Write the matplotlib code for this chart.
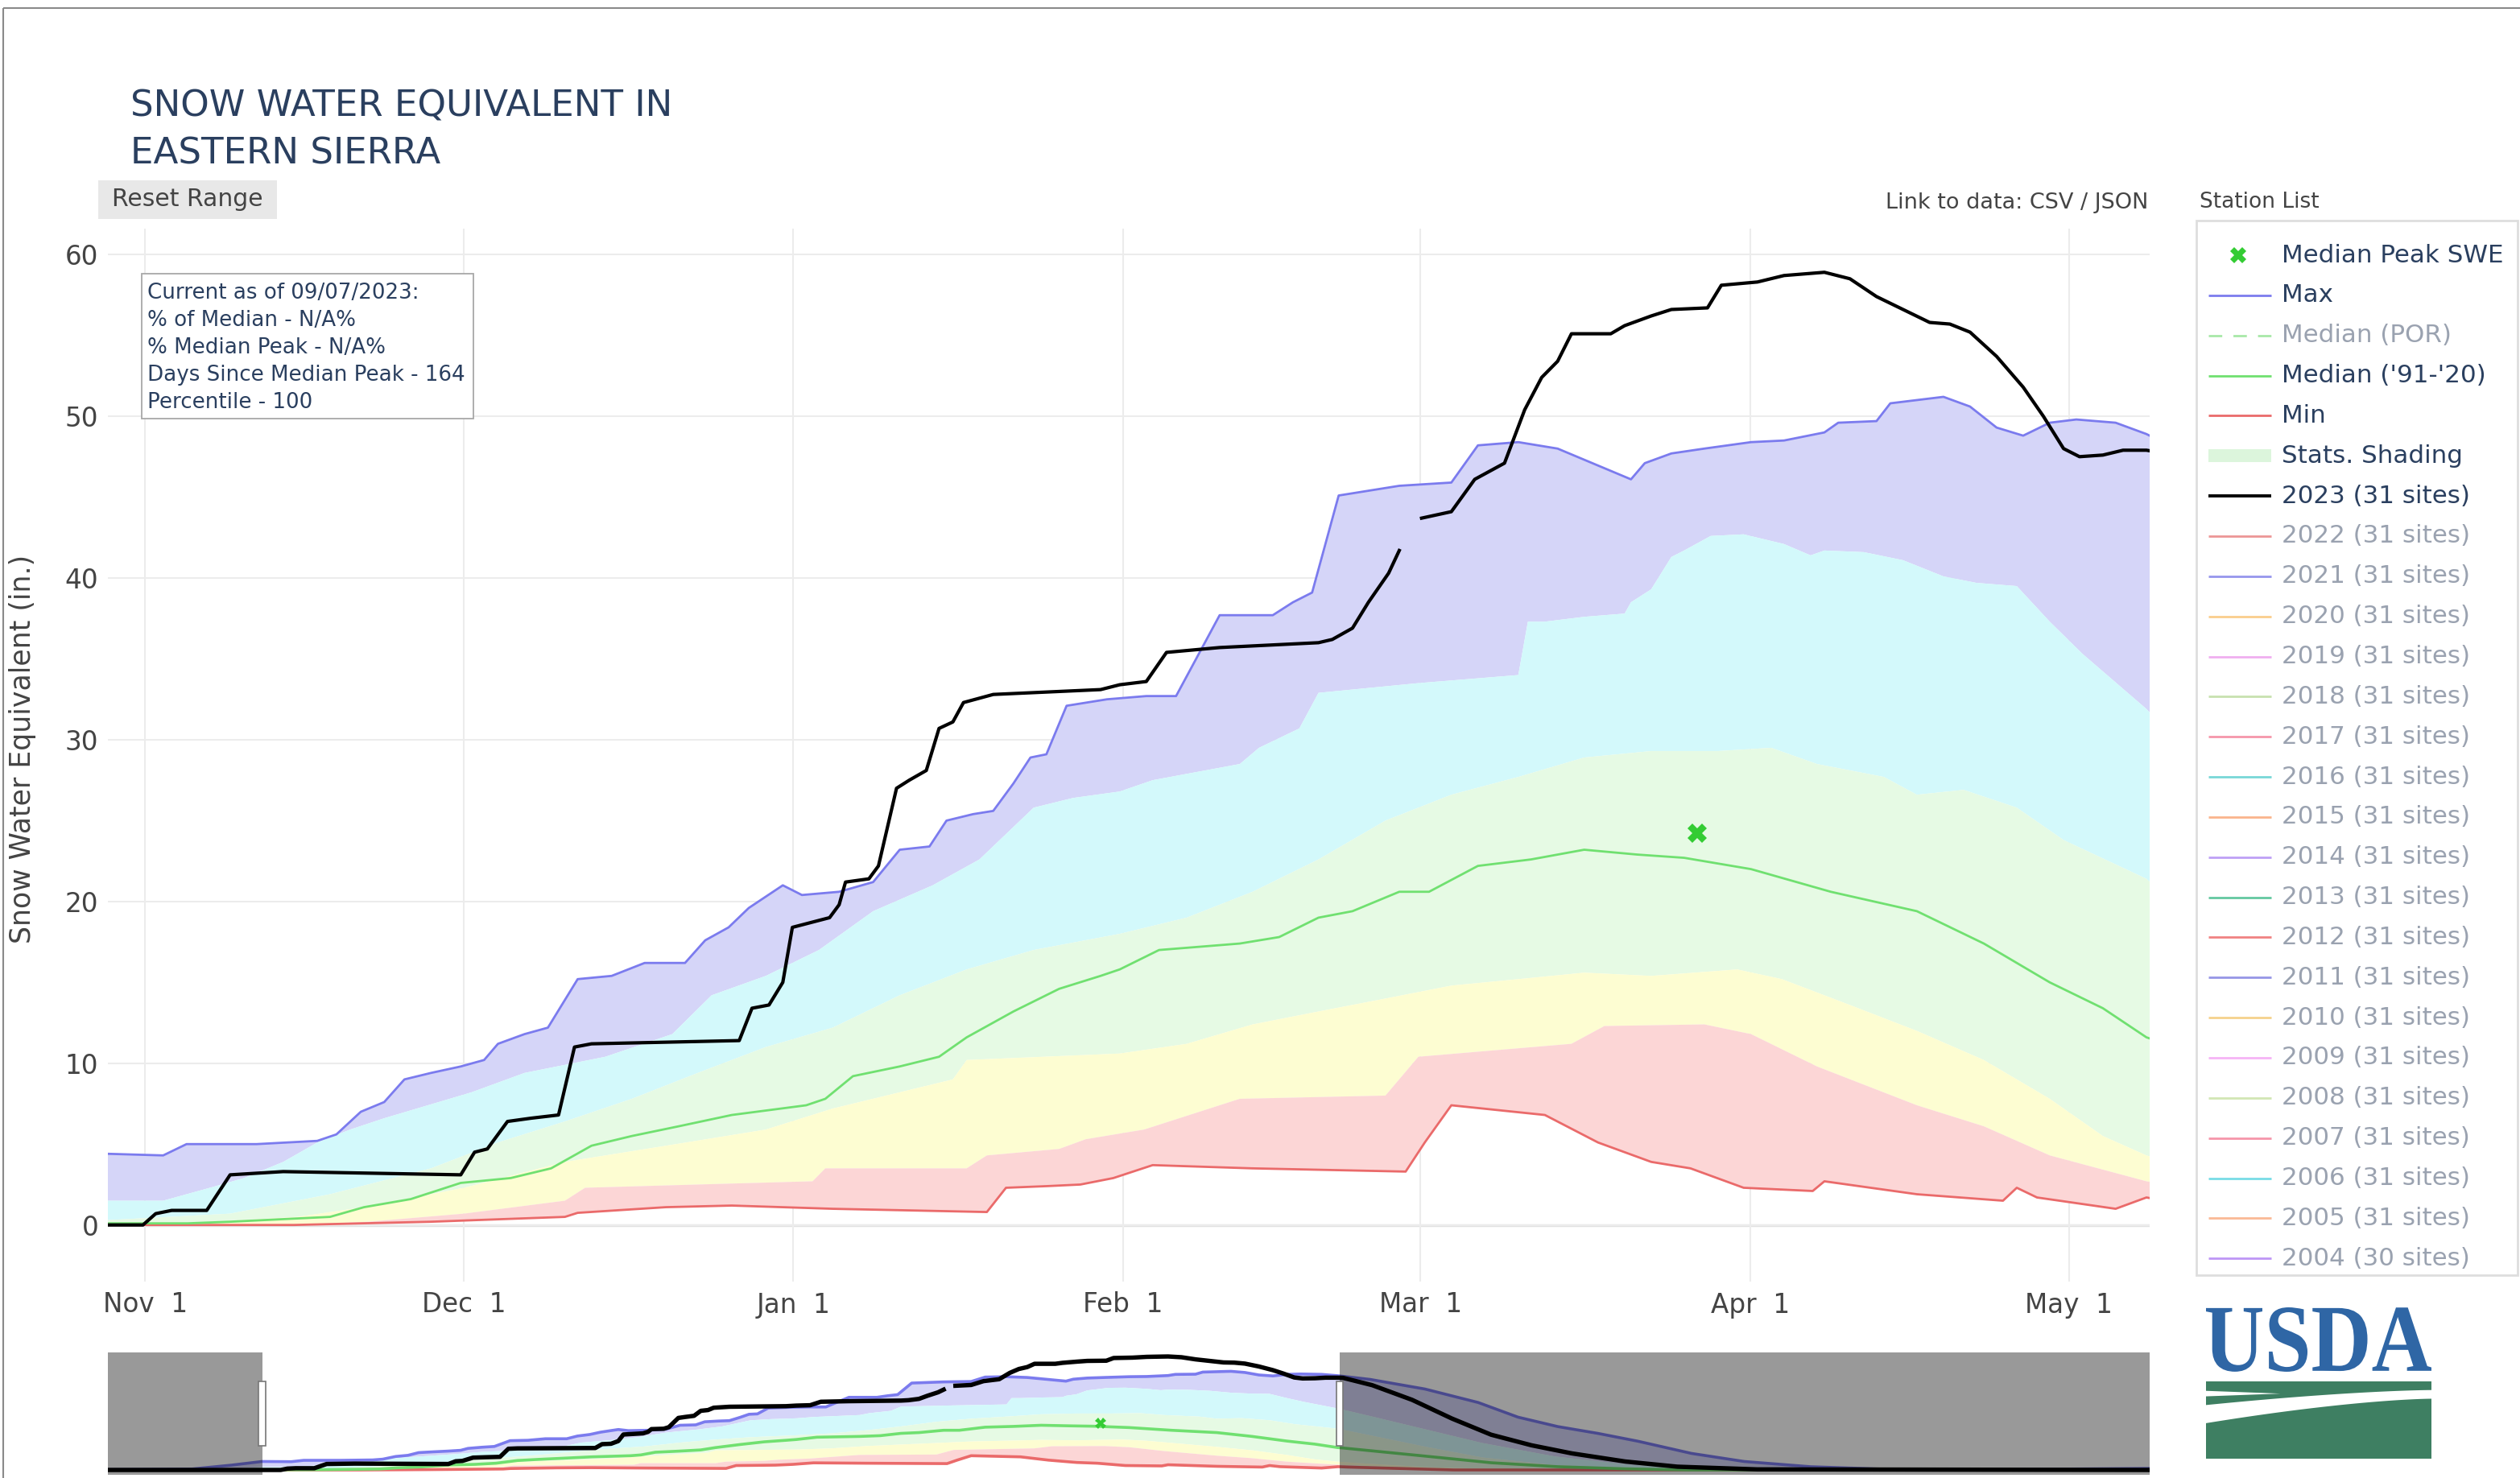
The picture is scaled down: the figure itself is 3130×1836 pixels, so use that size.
import matplotlib
matplotlib.use("Agg")
import numpy as np
import matplotlib.pyplot as plt
import matplotlib.transforms as mtrans
from matplotlib.patches import Rectangle, PathPatch, Polygon
from matplotlib.textpath import TextPath
from matplotlib.font_manager import FontProperties, fontManager

# ---------------- DATA (x = days since Oct 1, water year 2023) ----------------
max_days = [0, 15, 22, 27.5, 32.7, 34.9, 41.5, 47.2, 49, 51.3, 53.5, 55.4, 57.9, 60.7, 62.9, 64.2, 66.7,
            68.9, 71.7, 74.9, 78, 81.8, 83.7, 85.9, 87.8, 91, 92.8, 96.3, 99.5, 102, 104.8, 106.4, 108.9,
            110.8, 112.7, 114.3, 115.8, 117.7, 121.5, 125.2, 128, 132.1, 137.1, 139, 140.8, 143.3, 149,
            153.9, 156.4, 160.2, 163.9, 170.8, 172.1, 174.6, 177.7, 182.1, 185.2, 189, 190.3, 193.9, 195.2,
            197.7, 200.2, 202.7, 205.2, 207.7, 210.2, 212.7, 216.4, 219.3, 225, 234.8, 244.3, 251.4, 258.5,
            265.6, 272.8, 282.3, 291.7, 303.5, 317.6, 340, 364]
max_vals = [0.2, 0.5, 2.5, 4.4, 4.3, 5.0, 5.0, 5.2, 5.6, 7.0, 7.6, 9.0, 9.4, 9.8, 10.2, 11.2, 11.8,
            12.2, 15.2, 15.4, 16.2, 16.2, 17.6, 18.4, 19.6, 21.0, 20.4, 20.6, 21.2, 23.2, 23.4, 25.0, 25.4,
            25.6, 27.3, 28.9, 29.1, 32.1, 32.5, 32.7, 32.7, 37.7, 37.7, 38.5, 39.1, 45.1, 45.7,
            45.9, 48.2, 48.4, 48.0, 46.1, 47.1, 47.7, 48.0, 48.4, 48.5, 49.0, 49.6, 49.7, 50.8,
            51.0, 51.2, 50.6, 49.3, 48.8, 49.6, 49.8, 49.6, 48.9, 47.0, 42.0, 35.0, 27.4, 22.5,
            19.0, 14.9, 8.6, 4.4, 1.7, 0.3, 0.3, 0.8]

p90_days = [0, 20, 27.5, 32.7, 37.1, 40.3, 44, 47.2, 50.3, 53.5, 61.7, 66.7, 74.3, 80.6, 84.3, 89.4, 94.4,
            99.5, 105.1, 109.5, 114.6, 118.3, 122.7, 125.8, 134, 135.8, 139.6, 141.4, 150.8, 160.2, 161.1,
            162.7, 166.4, 170.2, 170.8, 172.7, 174.6, 175.8, 178.3, 181.4, 185.2, 187.7, 189, 192.7, 196.4,
            200.2, 203.3, 207.1, 210.2, 213.3, 219.3, 225, 235, 245, 258, 272, 290, 364]
p90_vals = [0, 0.3, 1.5, 1.5, 2.3, 2.9, 3.9, 5.1, 5.9, 6.6, 8.2, 9.4, 10.4, 11.8, 14.2, 15.4, 17.0,
            19.4, 21.0, 22.6, 25.8, 26.4, 26.8, 27.5, 28.5, 29.5, 30.7, 32.9, 33.5, 34.0, 37.3,
            37.3, 37.6, 37.8, 38.5, 39.3, 41.3, 41.7, 42.6, 42.7, 42.1, 41.4, 41.7, 41.6, 41.1,
            40.1, 39.7, 39.5, 37.3, 35.3, 31.9, 28.0, 21.0, 14.0, 7.0, 2.5, 0.5, 0]

p70_days = [0, 27.5, 39, 48.4, 57.9, 64.2, 70.5, 76.8, 83, 89.4, 95.7, 102, 108.3, 114.6, 122.7, 129,
            135.2, 141.4, 147.7, 153.9, 160.2, 166.4, 172.7, 179, 184, 188.3, 194.6, 197.7, 202.1, 207.1,
            211.5, 219.3, 225, 235, 245, 258, 272, 364]
p70_vals = [0, 0.3, 0.7, 1.9, 3.5, 5.1, 6.4, 7.8, 9.4, 11.0, 12.2, 14.2, 15.8, 17.0, 18.0, 19.0,
            20.6, 22.6, 25.0, 26.6, 27.7, 28.9, 29.3, 29.3, 29.5, 28.5, 27.7, 26.6, 26.9, 25.8,
            23.8, 21.4, 18.0, 12.0, 6.5, 2.5, 0.5, 0]

p30_days = [0, 27.5, 35, 45.3, 51.6, 61, 70.5, 80, 89.4, 95.7, 107, 108.3, 122.7, 129, 135.2, 141.4,
            147.7, 153.9, 160.2, 166.4, 172.7, 180.8, 185, 191.4, 197.7, 204, 210.2, 215.2, 219.3, 225,
            235, 248, 262, 364]
p30_vals = [0, 0.1, 0.1, 0.5, 1.1, 2.3, 3.9, 4.9, 5.9, 7.2, 9.0, 10.2, 10.6, 11.2, 12.4, 13.2,
            14.0, 14.8, 15.2, 15.6, 15.4, 15.8, 15.2, 13.6, 12.0, 10.2, 7.8, 5.5, 4.3, 3.2,
            1.5, 0.4, 0, 0]

p10_days = [0, 45, 52, 61, 70.5, 72.4, 83, 93.8, 95, 108.3, 110.2, 117, 119.5, 125, 132.1, 134, 147.7,
            150.8, 165.2, 168.3, 177.7, 182.1, 188.3, 197.7, 204, 210.2, 219.3, 225, 235, 245, 260, 364]
p10_vals = [0, 0, 0.2, 0.7, 1.5, 2.3, 2.5, 2.7, 3.5, 3.5, 4.3, 4.7, 5.3, 5.9, 7.4, 7.8, 8.0,
            10.4, 11.2, 12.3, 12.4, 11.8, 9.8, 7.4, 6.1, 4.3, 2.7, 2.0, 0.8, 0.2, 0, 0]

min_days = [0, 45, 57.9, 70.5, 71.7, 80, 86.2, 95.7, 110.2, 112, 115.8, 119, 122.1, 125.8, 135.2, 149.6,
            151.4, 153.9, 162.7, 167.7, 172.7, 176.4, 181.4, 187.9, 189, 197.7, 205.8, 207.1, 209, 216.4,
            219.3, 221, 240, 364]
min_vals = [0, 0, 0.2, 0.5, 0.75, 1.1, 1.2, 1.0, 0.8, 2.3, 2.4, 2.5, 2.9, 3.7, 3.5, 3.3,
            5.1, 7.4, 6.8, 5.1, 3.9, 3.5, 2.3, 2.1, 2.7, 1.9, 1.5, 2.3, 1.7, 1.0,
            1.7, 1.5, 0, 0]

med_days = [0, 27.5, 35, 39, 48.4, 51.6, 56, 60.7, 65.4, 69.2, 73, 76.8, 81.2, 86.2, 93.2, 95, 97.6, 102,
            105.7, 108.3, 112.7, 117, 120.9, 122.7, 126.4, 134, 137.7, 141.4, 144.6, 149, 151.8, 156.4,
            161.4, 166.4, 171.4, 175.8, 182.1, 189.6, 197.7, 204, 210.2, 215.2, 219.3, 220.2, 234.8,
            246.6, 258.5, 270.5, 282, 364]
med_vals = [0, 0.1, 0.1, 0.2, 0.5, 1.1, 1.6, 2.6, 2.9, 3.5, 4.9, 5.5, 6.1, 6.8, 7.4, 7.8, 9.2, 9.8,
            10.4, 11.6, 13.2, 14.6, 15.4, 15.8, 17.0, 17.4, 17.8, 19.0, 19.4, 20.6, 20.6, 22.2,
            22.6, 23.2, 22.9, 22.7, 22.0, 20.6, 19.4, 17.4, 15.0, 13.4, 11.6, 11.4, 7.2,
            3.75, 1.7, 0.6, 0, 0]

wy2023_days = [0, 27.5, 30.8, 32, 33.5, 36.8, 39, 44, 60.7, 62, 63.2, 65.1, 67.3, 69.9, 71.4, 73, 86.9,
               88.1, 89.7, 91, 91.9, 95.4, 96.3, 96.9, 99.1, 100, 101.7, 102.9, 104.5, 105.7, 107, 108,
               110.8, 120.9, 122.7, 125.2, 127.1, 132.1, 141.4, 142.7, 144.6, 146.1, 148, 149, 150,
               151.1, 153.9, 156.1, 158.9, 160.8, 162.4, 163.9, 165.2, 168.9, 170.2, 172.7, 174.6, 178,
               179.3, 182.7, 185.2, 189, 191.4, 193.9, 196.4, 198.9, 200.8, 202.7, 205.2, 207.7, 209.6,
               211.5, 213, 215.2, 217.1, 219.3, 220.2, 225.4, 232.5, 239.6, 246.6, 253.8, 261, 270.5,
               279.8, 294, 364]
wy2023_vals = [0, 0, 0, 0.7, 0.9, 0.9, 3.1, 3.3, 3.1, 4.5, 4.7, 6.4, 6.6, 6.8, 11.0, 11.2, 11.4,
               13.4, 13.6, 15.0, 18.4, 19.0, 19.8, 21.2, 21.4, 22.2, 27.0, 27.5, 28.1, 30.7, 31.1, 32.3,
               32.8, 33.1, 33.4, 33.6, 35.4, 35.7, 36.0, 36.2, 36.9, 38.5, 40.3, 41.7, np.nan,
               43.7, 44.1, 46.1, 47.1, 50.4, 52.4, 53.4, 55.1, 55.1, 55.6, 56.2, 56.6, 56.7,
               58.1, 58.3, 58.7, 58.9, 58.5, 57.4, 56.6, 55.8, 55.7, 55.2, 53.7, 51.8, 50.0,
               48.0, 47.5, 47.6, 47.9, 47.9, 47.8, 44.0, 36.4, 26.7, 18.3, 12.8, 8.6, 4.4,
               1.7, 0.3, 0]

peak_day = [177]
peak_val = [24.2]

tick_days = [31, 61, 92, 123, 151, 182, 212]
tick_labels = ["Nov  1", "Dec  1", "Jan  1", "Feb  1", "Mar  1", "Apr  1", "May  1"]
y_ticks = [0, 10, 20, 30, 40, 50, 60]

view_start, view_end = 27.5, 219.6
year_start, year_end = 0, 364

info_lines = ["Current as of 09/07/2023:", "% of Median - N/A%", "% Median Peak - N/A%",
              "Days Since Median Peak - 164", "Percentile - 100"]

legend_years = ["2022", "2021", "2020", "2019", "2018", "2017", "2016", "2015", "2014", "2013",
                "2012", "2011", "2010", "2009", "2008", "2007", "2006", "2005", "2004"]
legend_sites = [31] * 18 + [30]
year_colors = ["#ec9696", "#9696ec", "#facd8c", "#f0aff0", "#c8e1af", "#f596aa", "#78d7d7",
               "#fab48c", "#bea0f5", "#64c8a0", "#f08282", "#9696e6", "#f5d28c", "#f5b4f5",
               "#d2e6b4", "#f596aa", "#78dce6", "#fab996", "#be96f5"]

# ---------------- STYLE ----------------
C_MAX, C_MIN, C_MED, C_PEAK = "#7b7bee", "#ea6a6a", "#70e070", "#33cc33"
F_BLUE, F_CYAN, F_GREEN, F_YEL, F_RED = "#d5d5f8", "#d3f9fb", "#e6fae4", "#fdfdd2", "#fcd6d6"
TXT_DARK, TXT_GREY, TXT_HID = "#2a3f5f", "#444444", "#9aa2b0"

W, H = 3130, 1836
fig = plt.figure(figsize=(W / 100, H / 100), dpi=100)
fig.patch.set_facecolor("white")


def fx(px):
    return px / W


def fy(py):
    return 1 - py / H


def band(a, d_lo, v_lo, d_hi, v_hi, color):
    xs = list(d_hi) + list(d_lo)[::-1]
    ys = list(v_hi) + list(v_lo)[::-1]
    a.fill(xs, ys, color=color, lw=0, zorder=1)


def draw_series(a, lw_scale=1.0):
    band(a, p90_days, p90_vals, max_days, max_vals, F_BLUE)
    band(a, p70_days, p70_vals, p90_days, p90_vals, F_CYAN)
    band(a, p30_days, p30_vals, p70_days, p70_vals, F_GREEN)
    band(a, p10_days, p10_vals, p30_days, p30_vals, F_YEL)
    band(a, min_days, min_vals, p10_days, p10_vals, F_RED)
    a.plot(min_days, min_vals, color=C_MIN, lw=2.0 * lw_scale, zorder=3)
    a.plot(med_days, med_vals, color=C_MED, lw=2.0 * lw_scale, zorder=3)
    a.plot(max_days, max_vals, color=C_MAX, lw=2.0 * lw_scale, zorder=3)
    a.plot(wy2023_days, wy2023_vals, color="black", lw=3.0 * lw_scale, zorder=4)


# ---------------- MAIN AXES ----------------
ax = fig.add_axes([fx(134), fy(1592), fx(2670) - fx(134), fy(284) - fy(1592)])
draw_series(ax)
ax.plot(peak_day, peak_val, linestyle="none", marker="X", color=C_PEAK, markersize=17,
        markeredgewidth=0, zorder=5)
ax.set_xlim(view_start, view_end)
ax.set_ylim(-3.5, 61.6)
ax.set_xticks(tick_days)
ax.set_xticklabels(tick_labels)
ax.set_yticks(y_ticks)
ax.set_axisbelow(True)
ax.grid(True, color="#ececec", lw=1.5)
ax.axhline(0, color="#e2e2e2", lw=2.5, zorder=0.5)
for s in ax.spines.values():
    s.set_visible(False)
ax.tick_params(length=0, labelsize=23.5, colors=TXT_GREY)
ax.tick_params(axis="y", pad=8.5)
ax.tick_params(axis="x", pad=9)

# ---------------- RANGE SLIDER ----------------
ax2 = fig.add_axes([fx(134), fy(1832), fx(2670) - fx(134), fy(1680) - fy(1832)])
draw_series(ax2, lw_scale=1.3)
ax2.plot(peak_day, peak_val, linestyle="none", marker="X", color=C_PEAK, markersize=10,
         markeredgewidth=0, zorder=5)
ax2.set_xlim(year_start, year_end)
ax2.set_ylim(-2.5, 61.0)
ax2.axis("off")
ax2.axvspan(year_start, view_start, color="black", alpha=0.4, lw=0, zorder=6)
ax2.axvspan(view_end, year_end, color="black", alpha=0.4, lw=0, zorder=6)
btr = mtrans.blended_transform_factory(ax2.transData, ax2.transAxes)
for xd in (view_start, view_end):
    ax2.add_patch(Rectangle((xd - 0.6, 0.24), 1.2, 0.52, transform=btr, facecolor="white",
                            edgecolor="#777777", lw=1.2, zorder=7, clip_on=False))

# ---------------- OVERLAY (page decorations) ----------------
ov = fig.add_axes([0, 0, 1, 1], zorder=10)
ov.set_xlim(0, W)
ov.set_ylim(H, 0)
ov.axis("off")
ov.patch.set_alpha(0)

# page frame
ov.plot([4, 4], [10, H], color="#8a8a8a", lw=1.5, solid_capstyle="butt")
ov.plot([4, W], [10, 10], color="#8a8a8a", lw=1.5, solid_capstyle="butt")

# title
names = {f.name for f in fontManager.ttflist}
if "Liberation Sans Narrow" in names:
    tfont = dict(family="Liberation Sans Narrow", fontsize=39)
else:
    tfont = dict(family="DejaVu Sans", fontsize=32.5)
ov.text(162, 144, "SNOW WATER EQUIVALENT IN", va="baseline", ha="left", color=TXT_DARK, **tfont)
ov.text(162, 203, "EASTERN SIERRA", va="baseline", ha="left", color=TXT_DARK, **tfont)

# reset range button
ov.add_patch(Rectangle((122, 224), 222, 48, facecolor="#e8e8e8", edgecolor="none"))
ov.text(233, 248, "Reset Range", ha="center", va="center", fontsize=21.5, color=TXT_GREY)

# info box
ov.add_patch(Rectangle((176, 340), 412, 180, facecolor="white", edgecolor="#a8a8a8", lw=1.3))
for i, line in enumerate(info_lines):
    ov.text(183, 364 + 34 * i, line, ha="left", va="center", fontsize=18.8, color=TXT_DARK)

# y-axis title
ov.text(28, 930, "Snow Water Equivalent (in.)", rotation=90, ha="center", va="center",
        fontsize=25, color=TXT_GREY)

# link text / station list
ov.text(2668, 252, "Link to data: CSV / JSON", ha="right", va="center", fontsize=19.5, color=TXT_GREY)
ov.text(2732, 251, "Station List", ha="left", va="center", fontsize=19, color=TXT_GREY)

# legend
ov.add_patch(Rectangle((2728, 274), 399, 1310, facecolor="white", edgecolor="#dedede", lw=2))
LX0, LX1, TX = 2743, 2821, 2834
row0, dy = 317, 49.85
entries = [("Median Peak SWE", "marker", C_PEAK, True),
           ("Max", "line", C_MAX, True),
           ("Median (POR)", "dash", "#a8e8a8", False),
           ("Median ('91-'20)", "line", C_MED, True),
           ("Min", "line", C_MIN, True),
           ("Stats. Shading", "shade", "#dcf5dc", True),
           ("2023 (31 sites)", "black", "black", True)]
for yr, ns, col in zip(legend_years, legend_sites, year_colors):
    entries.append((f"{yr} ({ns} sites)", "line", col, False))
for i, (lab, kind, col, vis) in enumerate(entries):
    yc = row0 + i * dy
    if kind == "marker":
        ov.plot([(LX0 + LX1) / 2 - 2], [yc], marker="X", color=col, markersize=15, markeredgewidth=0)
    elif kind == "line":
        ov.plot([LX0, LX1], [yc, yc], color=col, lw=2.0, solid_capstyle="butt")
    elif kind == "dash":
        ov.plot([LX0, LX1], [yc, yc], color=col, lw=2.0, dashes=(6, 5))
    elif kind == "shade":
        ov.add_patch(Rectangle((LX0, yc - 8), LX1 - LX0, 16, facecolor=col, edgecolor="none"))
    elif kind == "black":
        ov.plot([LX0, LX1], [yc, yc], color=col, lw=2.8, solid_capstyle="butt")
    ov.text(TX, yc, lab, ha="left", va="center", fontsize=22.3,
            color=TXT_DARK if vis else TXT_HID)

# USDA logo
tp = TextPath((0, 0), "USDA", prop=FontProperties(family="Liberation Serif", weight="bold"), size=100)
bb = tp.get_extents()
lx0, lx1, ly0, ly1 = 2740, 3020, 1624, 1704
tr = mtrans.Affine2D().translate(-bb.x0, -bb.y1).scale((lx1 - lx0) / bb.width,
                                                         -(ly1 - ly0) / bb.height).translate(lx0, ly0)
ov.add_patch(PathPatch(tr.transform_path(tp), facecolor="#2f66a5", edgecolor="none"))

gx0, gx1, gy0, gy1 = 2740, 3020, 1714, 1812
GW, GH = gx1 - gx0, gy1 - gy0
u = np.linspace(0, 1, 60)
band_bot = 0.13 + 0.19 * (1 - u) ** 1.5
blk_top = 0.24 + 0.31 * (1 - u) ** 1.5
GREEN = "#3e7f62"
top_poly = [(gx0, gy0 + 0.02 * GH), (gx1, gy0 + 0.02 * GH)] + \
           [(gx0 + uu * GW, gy0 + vv * GH) for uu, vv in zip(u[::-1], band_bot[::-1])]
ov.add_patch(Polygon(top_poly, closed=True, facecolor=GREEN, edgecolor="none"))
wedge = [(gx0, gy0 + 0.14 * GH), (gx0 + 0.33 * GW, gy0 + 0.175 * GH), (gx0, gy0 + 0.21 * GH)]
ov.add_patch(Polygon(wedge, closed=True, facecolor="white", edgecolor="none"))
blk_poly = [(gx0 + uu * GW, gy0 + vv * GH) for uu, vv in zip(u, blk_top)] + [(gx1, gy1), (gx0, gy1)]
ov.add_patch(Polygon(blk_poly, closed=True, facecolor=GREEN, edgecolor="none"))

fig.savefig("out.png", dpi=100, facecolor="white")
